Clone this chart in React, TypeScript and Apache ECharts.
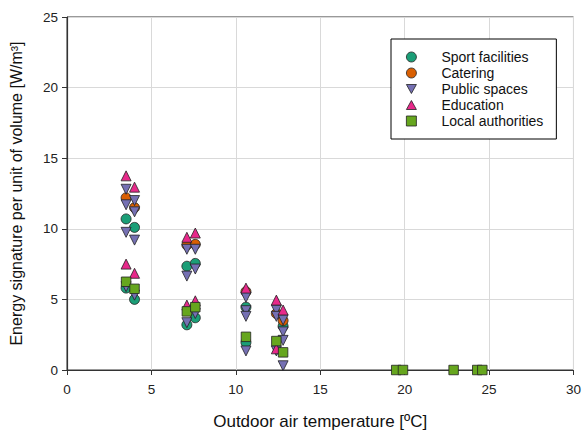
import React, { useEffect, useRef } from "react";
import * as echarts from "echarts";

const seriesNames = ["Sport facilities", "Catering", "Public spaces", "Education", "Local authorities"];
const seriesColors = ["#1b9e77", "#d95f02", "#7570b3", "#e7298a", "#66a61e"];
const downTriangle = "path://M0,0 L10,0 L5,9 Z";
const upTriangle = "path://M5,0 L10,9 L0,9 Z";
const seriesSymbols = ["circle", "circle", downTriangle, upTriangle, "rect"];

const sportFacilities = [
  [3.5, 10.7], [3.5, 5.8], [4.0, 10.1], [4.0, 5.0],
  [7.1, 7.35], [7.1, 3.2], [7.6, 7.55], [7.6, 3.7],
  [10.6, 4.45], [10.6, 1.95], [12.8, 3.1],
];
const catering = [
  [3.5, 12.2], [4.0, 11.5], [7.1, 8.85], [7.6, 8.9],
  [10.6, 5.55], [12.4, 4.0], [12.8, 3.5],
];
const publicSpaces = [
  [3.5, 12.8], [3.5, 11.7], [3.5, 9.75], [3.5, 5.9],
  [4.0, 12.0], [4.0, 11.2], [4.0, 9.2], [4.0, 5.3],
  [7.1, 8.55], [7.1, 6.65], [7.1, 3.35],
  [7.6, 8.55], [7.6, 7.15], [7.6, 4.0],
  [10.6, 5.15], [10.6, 4.2], [10.6, 3.8], [10.6, 1.35],
  [12.4, 4.25], [12.4, 3.8], [12.4, 1.35],
  [12.8, 3.55], [12.8, 2.7], [12.8, 2.1], [12.8, 0.3],
];
const education = [
  [3.5, 13.75], [3.5, 7.5], [4.0, 12.95], [4.0, 6.85],
  [7.1, 9.4], [7.1, 4.6], [7.6, 9.7], [7.6, 4.9],
  [10.6, 5.8], [12.4, 4.95], [12.4, 1.5], [12.8, 4.25],
];
const localAuthorities = [
  [3.5, 6.25], [4.0, 5.75], [7.1, 4.15], [7.6, 4.45],
  [10.6, 2.35], [12.4, 2.05], [12.8, 1.25],
  [19.5, 0], [19.9, 0], [22.9, 0], [24.3, 0], [24.6, 0],
];
const seriesData = [sportFacilities, catering, publicSpaces, education, localAuthorities];

const xTicks = { min: 0, max: 30, interval: 5 };
const yTicks = { min: 0, max: 25, interval: 5 };

export default function App() {
  const ref = useRef<HTMLDivElement>(null);
  useEffect(() => {
    if (!ref.current) return;
    const chart = echarts.init(ref.current, null, { renderer: "svg" });
    const font = "'Liberation Sans', Arial, sans-serif";
    chart.setOption({
      animation: false,
      backgroundColor: "#ffffff",
      textStyle: { fontFamily: font },
      grid: { left: 67, right: 6, top: 17, bottom: 61, show: true, borderColor: "#333", borderWidth: 1 },
      legend: {
        orient: "vertical",
        left: 391,
        top: 39,
        padding: [10, 13, 10, 15],
        itemWidth: 10,
        itemHeight: 10,
        itemGap: 0,
        borderColor: "#000",
        borderWidth: 1,
        backgroundColor: "#fff",
        textStyle: { fontFamily: font, fontSize: 14, color: "#111", lineHeight: 16, padding: [0, 0, 0, 20] },
        data: seriesNames.map((n, i) => ({
          name: n,
          icon: seriesSymbols[i],
          itemStyle: { color: seriesColors[i], borderColor: "#222", borderWidth: 0.8 },
        })),
      },
      xAxis: {
        type: "value",
        min: xTicks.min,
        max: xTicks.max,
        interval: xTicks.interval,
        name: "Outdoor air temperature [ºC]",
        nameLocation: "middle",
        nameGap: 43,
        nameTextStyle: { fontFamily: font, fontSize: 17, color: "#111" },
        axisLine: { show: true, onZero: false, lineStyle: { color: "#333", width: 1.2 } },
        axisTick: { show: true, length: 5, lineStyle: { color: "#333" } },
        axisLabel: { fontFamily: font, fontSize: 13.5, color: "#222", margin: 12 },
        splitLine: { show: true, lineStyle: { color: "#d9d9d9", width: 1 } },
      },
      yAxis: {
        type: "value",
        min: yTicks.min,
        max: yTicks.max,
        interval: yTicks.interval,
        name: "Energy signature per unit of volume [W/m³]",
        nameLocation: "middle",
        nameGap: 43,
        nameTextStyle: { fontFamily: font, fontSize: 16, color: "#111" },
        axisLine: { show: true, lineStyle: { color: "#333", width: 1.2 } },
        axisTick: { show: true, length: 5, lineStyle: { color: "#333" } },
        axisLabel: { fontFamily: font, fontSize: 13.5, color: "#222", margin: 9 },
        splitLine: { show: true, lineStyle: { color: "#d9d9d9", width: 1 } },
      },
      series: seriesNames.map((n, i) => ({
        name: n,
        type: "scatter",
        data: seriesData[i],
        symbol: seriesSymbols[i],
        symbolSize: seriesSymbols[i] === "rect" ? 9.5 : 10,
        itemStyle: { color: seriesColors[i], borderColor: "#222", borderWidth: 0.8, opacity: 1 },
        emphasis: { disabled: true },
      })),
    });
    return () => chart.dispose();
  }, []);
  return <div ref={ref} style={{ width: 584, height: 435, position: "absolute", left: 0, top: 0 }} />;
}
